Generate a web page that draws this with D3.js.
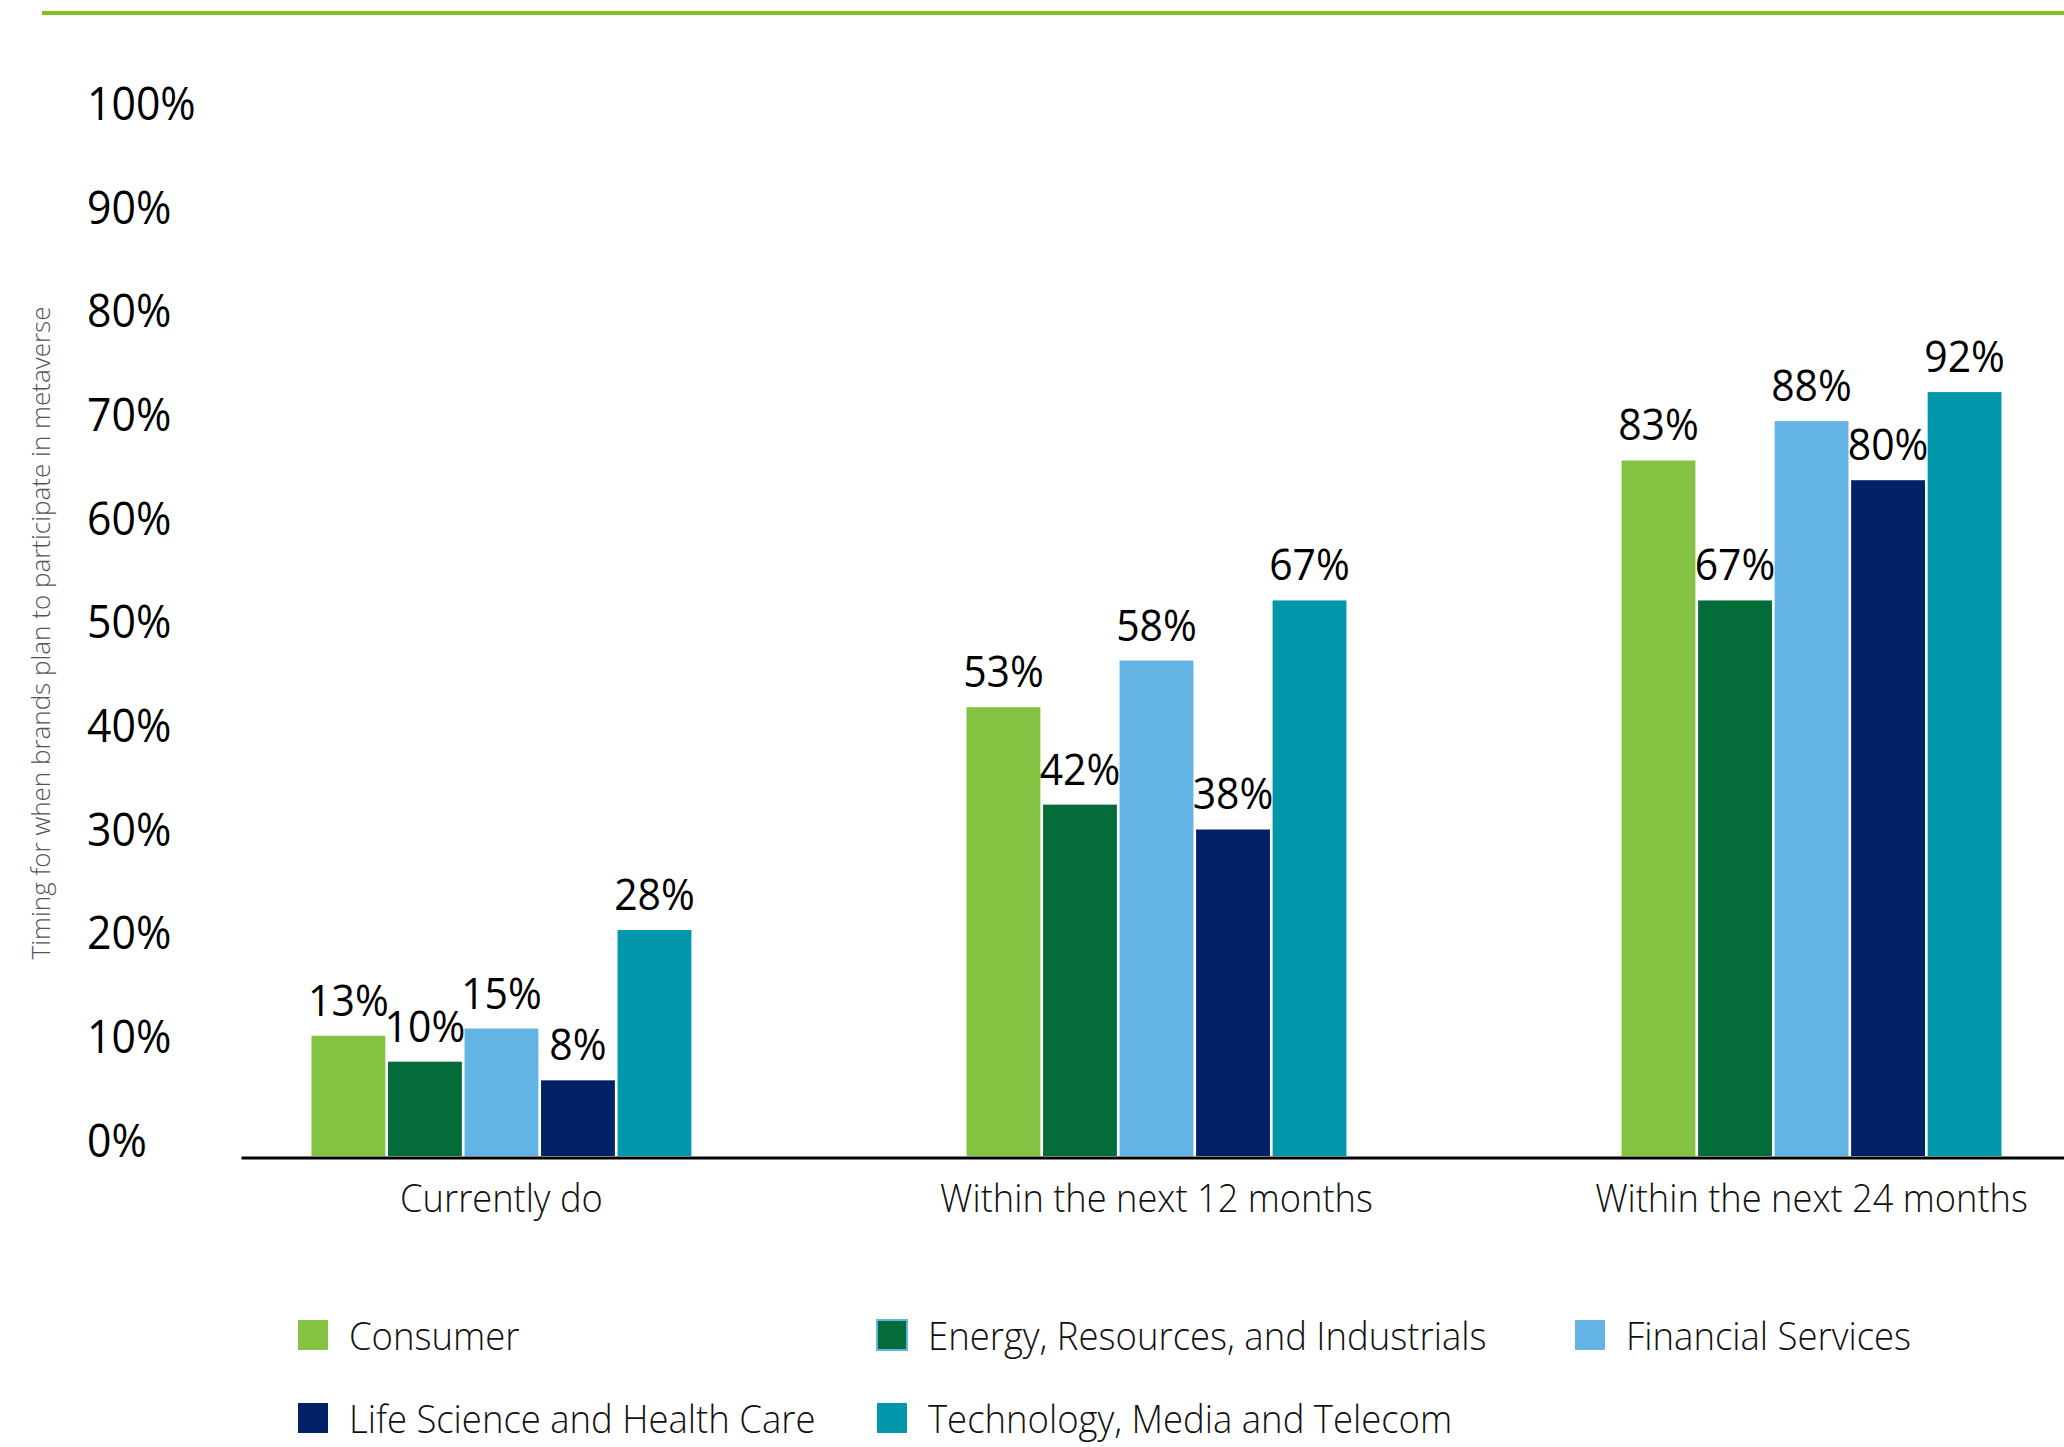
<!DOCTYPE html>
<html>
<head>
<meta charset="utf-8">
<script src="https://cdn.jsdelivr.net/npm/d3@7"></script>
<style>
    html, body { margin: 0; padding: 0; background: #fff; }
    svg { display: block; font-family: "Open Sans", "Noto Sans", sans-serif; }
    .axis .domain { stroke: #000; stroke-width: 3; }
    .axis text { fill: #111; }
</style>
</head>
<body>
<svg id="chart"></svg>
<script>
var metaverse_chart = {};

(function () {

    var WIDTH = 2064, HEIGHT = 1447;
    var PLOT = {left: 241, right: 2064, bottom: 1156, top: 119.5};
    var FONT = '"Open Sans", "Noto Sans", sans-serif';
    // the source type is a little narrower than Open Sans, squeeze it sideways
    var SQUEEZE = 0.93;

    // --- data ---
    var CATEGORIES = ['Currently do', 'Within the next 12 months', 'Within the next 24 months'];
    var SERIES = ['Consumer', 'Energy, Resources, and Industrials', 'Financial Services',
                  'Life Science and Health Care', 'Technology, Media and Telecom'];
    var COLORS = ['#84c241', '#046c39', '#63b4e4', '#012169', '#0097ab'];
    var Y_TICKS = [0, 10, 20, 30, 40, 50, 60, 70, 80, 90, 100];

    // bar heights as they sit against the axis (the printed labels do not match the axis)
    var currentlyDo = [11.6, 9.1, 12.3, 7.3, 21.8];
    var within12 = [43.3, 33.9, 47.8, 31.5, 53.6];
    var within24 = [67.1, 53.6, 70.9, 65.2, 73.7];

    // printed value labels
    var currentlyDoLabels = [13, 10, 15, 8, 28];
    var within12Labels = [53, 42, 58, 38, 67];
    var within24Labels = [83, 67, 88, 80, 92];

    var xScale, innerScale, yScale;

    function squeeze(sel, x, k) {
        k = k || SQUEEZE;
        sel.attr('x', x / k).attr('transform', 'scale(' + k + ',1)');
    }

    function buildScales() {
        xScale = d3.scaleBand().domain(CATEGORIES)
            .range([PLOT.left, PLOT.right])
            .paddingInner(0.42).paddingOuter(0.1015).align(0.53);
        innerScale = d3.scaleBand().domain(SERIES)
            .range([0, xScale.bandwidth()])
            .paddingInner(0.035).paddingOuter(0);
        yScale = d3.scaleLinear().domain([0, 100]).range([PLOT.bottom, PLOT.top]);
    }

    function drawAxes(svg) {
        var yAxis = d3.axisLeft(yScale).tickValues(Y_TICKS).tickSize(0)
            .tickFormat(function (d) { return d + '%'; });
        var gy = svg.append('g').attr('class', 'axis y-axis').call(yAxis)
            .attr('font-family', null);
        gy.select('.domain').remove();
        gy.selectAll('text')
            .attr('dy', 0).attr('y', 0)
            .style('text-anchor', 'start')
            .style('font-family', FONT)
            .style('font-size', '46px')
            .style('fill', '#000')
            .call(squeeze, 87);

        var xAxis = d3.axisBottom(xScale).tickSizeInner(0).tickSizeOuter(0);
        var gx = svg.append('g').attr('class', 'axis x-axis')
            .attr('transform', 'translate(0,' + (PLOT.bottom + 1.5) + ')')
            .call(xAxis)
            .attr('font-family', null);
        gx.selectAll('text')
            .attr('y', 55).attr('dy', 0)
            .style('font-family', FONT)
            .style('font-size', '39px')
            .style('font-weight', 300)
            .style('fill', '#111')
            .call(squeeze, 0);

        svg.append('text')
            .attr('transform', 'translate(50,633) rotate(-90)')
            .style('text-anchor', 'middle')
            .style('font-family', FONT)
            .style('font-size', '26px')
            .style('font-weight', 300)
            .style('fill', '#555')
            .text('Timing for when brands plan to participate in metaverse');
    }

    function drawBars(svg) {
        var heights = [currentlyDo, within12, within24];
        var labels = [currentlyDoLabels, within12Labels, within24Labels];

        var groups = svg.append('g').attr('class', 'bars')
            .selectAll('g').data(CATEGORIES).enter().append('g')
            .attr('transform', function (d) { return 'translate(' + xScale(d) + ',0)'; });

        var cells = groups.selectAll('g')
            .data(function (c, i) {
                return SERIES.map(function (s, j) {
                    return {series: s, idx: j, value: heights[i][j], label: labels[i][j]};
                });
            })
            .enter().append('g');

        cells.append('rect')
            .attr('x', function (d) { return innerScale(d.series); })
            .attr('y', function (d) { return yScale(d.value); })
            .attr('width', innerScale.bandwidth())
            .attr('height', function (d) { return yScale(0) - yScale(d.value); })
            .style('fill', function (d) { return COLORS[d.idx]; });

        cells.append('text')
            .attr('x', function (d) {
                return (innerScale(d.series) + innerScale.bandwidth() / 2) / SQUEEZE;
            })
            .attr('y', function (d) { return yScale(d.value) - 20; })
            .attr('transform', 'scale(' + SQUEEZE + ',1)')
            .style('text-anchor', 'middle')
            .style('font-family', FONT)
            .style('font-size', '44px')
            .style('fill', '#000')
            .text(function (d) { return d.label + '%'; });
    }

    function drawLegend(svg) {
        // three columns, two rows
        var colX = [298, 877, 1575];
        var rowY = [1320, 1403];
        var items = svg.append('g').attr('class', 'legend')
            .selectAll('g').data(SERIES).enter().append('g')
            .attr('transform', function (d, i) {
                return 'translate(' + colX[i % 3] + ',' + rowY[Math.floor(i / 3)] + ')';
            });
        items.append('rect')
            .attr('width', 30).attr('height', 30)
            .style('fill', function (d, i) { return COLORS[i]; })
            .style('stroke', function (d, i) { return i == 1 ? '#63b4e4' : 'none'; })
            .style('stroke-width', 2);
        items.append('text')
            .attr('y', 30)
            .style('font-family', FONT)
            .style('font-size', '38px')
            .style('font-weight', 300)
            .style('fill', '#111')
            .text(function (d) { return d; })
            .call(squeeze, 51, 0.96);
    }

    metaverse_chart.init = function (svgSelector) {
        var svg = d3.select(svgSelector).attr('width', WIDTH).attr('height', HEIGHT);

        // green rule across the top
        svg.append('line')
            .attr('x1', 42).attr('x2', WIDTH).attr('y1', 13).attr('y2', 13)
            .style('stroke', '#86bc25').style('stroke-width', 4);

        buildScales();
        drawBars(svg);
        drawAxes(svg);
        drawLegend(svg);
    };
}());

metaverse_chart.init('#chart');
</script>
</body>
</html>
